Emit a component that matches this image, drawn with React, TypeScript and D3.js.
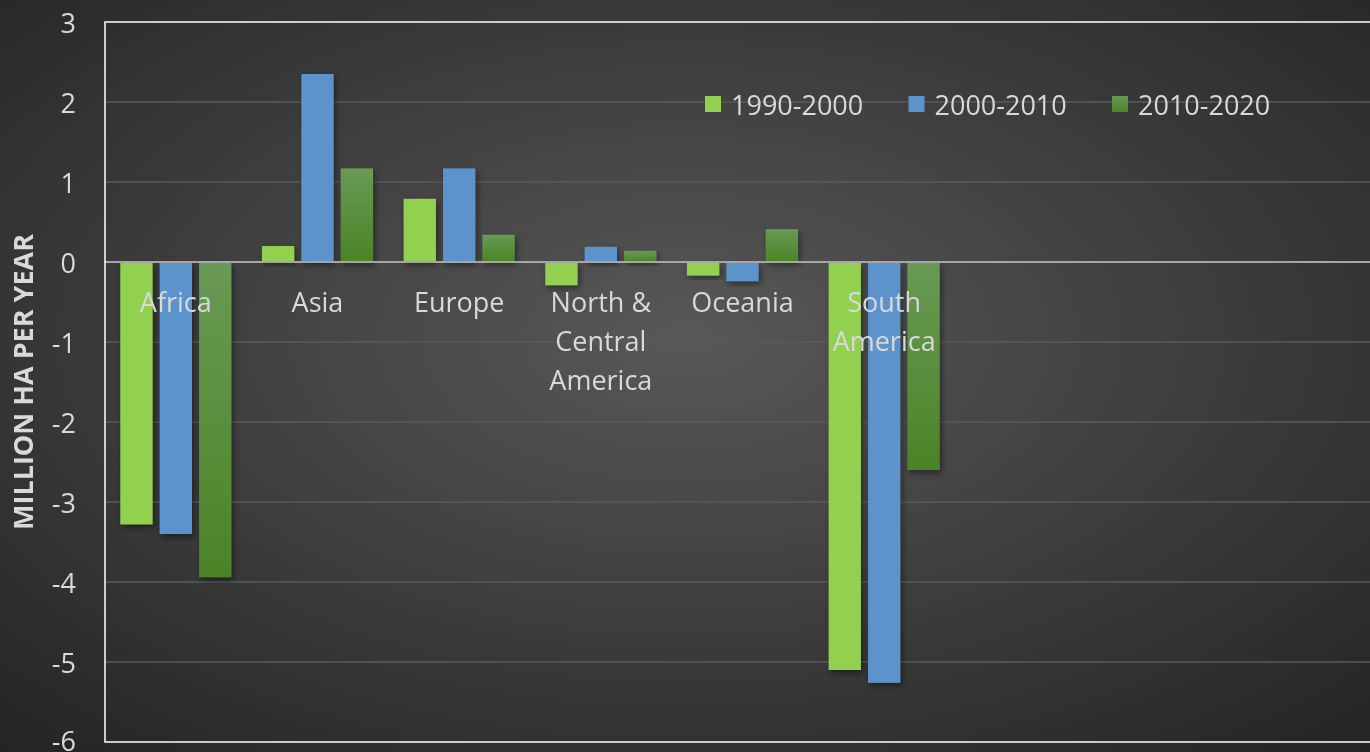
import React from "react";
import * as d3 from "d3";

const categories = ["Africa", "Asia", "Europe", "North & Central America", "Oceania", "South America", "", " ", "  "];
const categoryLines = [["Africa"], ["Asia"], ["Europe"], ["North &", "Central", "America"], ["Oceania"], ["South", "America"], [], [], []];
const seriesNames = ["1990-2000", "2000-2010", "2010-2020"];
const s1990 = [-3.28, 0.2, 0.79, -0.29, -0.17, -5.1];
const s2000 = [-3.4, 2.35, 1.17, 0.19, -0.24, -5.26];
const s2010 = [-3.94, 1.17, 0.34, 0.14, 0.41, -2.6];
const yTicks = [3, 2, 1, 0, -1, -2, -3, -4, -5, -6];
const seriesValues = [s1990, s2000, s2010];

const W = 1370;
const H = 752;
const plotLeft = 105;
const plotRight = 1380;
const plotTop = 22;
const plotBottom = 742;
const FONT = "'Open Sans', 'Noto Sans', sans-serif";

export default function App() {
  const x = d3.scaleBand<string>().domain(categories).range([plotLeft, plotRight]).paddingInner(0).paddingOuter(0);
  const y = d3.scaleLinear().domain([-6, 3]).range([plotBottom, plotTop]);
  const bw = x.bandwidth();
  const barW = bw * 0.228;
  const gap = bw * 0.05;
  const groupW = barW * 3 + gap * 2;
  const fills = ["#92d050", "#5b93cb", "url(#dkgreen)"];

  return (
    <div style={{ position: "fixed", left: 0, top: 0 }}>
      <svg width={W} height={H} style={{ display: "block" }}>
        <defs>
          <radialGradient id="bg" cx="50%" cy="45%" r="75%">
            <stop offset="0%" stopColor="#585858" />
            <stop offset="100%" stopColor="#232323" />
          </radialGradient>
          <linearGradient id="dkgreen" x1="0" y1="0" x2="0" y2="1">
            <stop offset="0%" stopColor="#699a55" />
            <stop offset="100%" stopColor="#4a8426" />
          </linearGradient>
          <filter id="shadow" x="-30%" y="-30%" width="160%" height="160%">
            <feDropShadow dx="2" dy="3" stdDeviation="3" floodColor="#000" floodOpacity="0.45" />
          </filter>
        </defs>
        <rect x={0} y={0} width={W} height={H} fill="url(#bg)" />
        {yTicks.filter((t) => t !== 0 && t !== 3 && t !== -6).map((t) => (
          <line key={t} x1={plotLeft} x2={plotRight} y1={y(t)} y2={y(t)} stroke="#5a5a5a" strokeWidth={1.5} />
        ))}
        {seriesValues.map((vals, si) =>
          vals.map((v, ci) => {
            const x0 = (x(categories[ci]) as number) + (bw - groupW) / 2 + si * (barW + gap);
            const y0 = Math.min(y(0), y(v));
            const h = Math.abs(y(v) - y(0));
            return (
              <rect key={si + "-" + ci} x={x0} y={y0} width={barW} height={h} fill={fills[si]} filter="url(#shadow)" />
            );
          })
        )}
        <line x1={plotLeft} x2={plotRight} y1={y(0)} y2={y(0)} stroke="#a6a6a6" strokeWidth={2} />
        <rect x={plotLeft} y={plotTop} width={plotRight - plotLeft} height={plotBottom - plotTop} fill="none" stroke="#ffffff" strokeWidth={1.5} />
        {yTicks.map((t) => (
          <text key={t} x={76} y={t === -6 ? y(t) - 2 : y(t)} textAnchor="end" dominantBaseline="central" fill="#d9d9d9" fontFamily={FONT} fontSize={27}>
            {t}
          </text>
        ))}
        <text
          transform={`translate(22, 382) rotate(-90)`}
          textAnchor="middle"
          dominantBaseline="central"
          fill="#d9d9d9"
          fontFamily={FONT}
          fontWeight="bold"
          fontSize={27}
        >
          MILLION HA PER YEAR
        </text>
        {categoryLines.map((lines, ci) =>
          lines.map((ln, li) => (
            <text
              key={ci + "-" + li}
              x={(x(categories[ci]) as number) + bw / 2}
              y={y(0) + 39 + li * 39}
              textAnchor="middle"
              dominantBaseline="central"
              fill="#d9d9d9"
              fontFamily={FONT}
              fontSize={27}
            >
              {ln}
            </text>
          ))
        )}
        {seriesNames.map((name, i) => {
          const lx = 705 + i * 203.5;
          return (
            <g key={name}>
              <rect x={lx} y={96} width={16} height={16} fill={fills[i]} />
              <text x={lx + 26} y={104} dominantBaseline="central" fill="#d9d9d9" fontFamily={FONT} fontSize={27}>
                {name}
              </text>
            </g>
          );
        })}
      </svg>
    </div>
  );
}
